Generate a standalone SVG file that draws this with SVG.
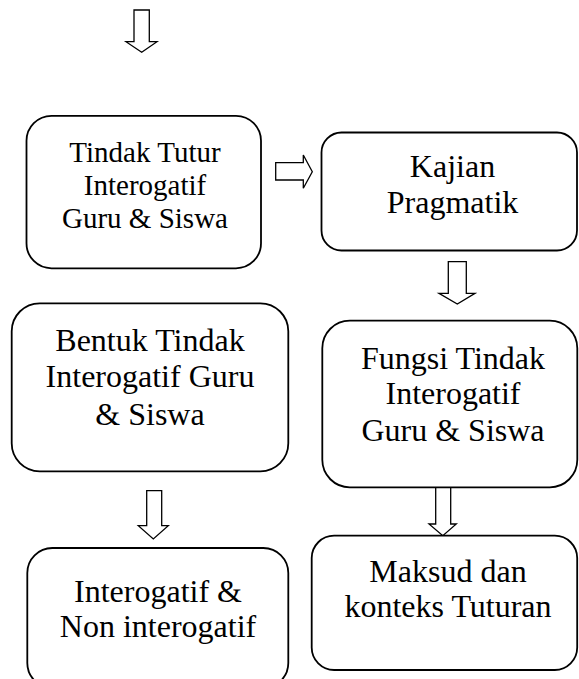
<svg xmlns="http://www.w3.org/2000/svg" width="579" height="679" viewBox="0 0 579 679">
<style>
.box{fill:#fff;stroke:#000;stroke-width:1.8}
.arr{fill:#fff;stroke:#000;stroke-width:1.3;stroke-linejoin:miter}
text{fill:#000;text-anchor:middle}
.t29{font-size:29px}
.t32{font-size:32px}
</style>
<rect width="579" height="679" fill="#fff"/>
<g id="connectors">
<polygon class="arr" points="134,10 149.3,10 149.3,41.7 157,41.7 141.7,52.3 126,41.7 134,41.7"/>
<polygon class="arr" points="275.7,162.7 303.3,162.7 303.3,155 312.3,171.7 303.3,188.3 303.3,180 275.7,180"/>
<polygon class="arr" points="448.3,261.7 466.3,261.7 466.3,293.3 475,293.3 457.3,304 439,293.3 448.3,293.3"/>
<polygon class="arr" points="146.7,490.7 161.7,490.7 161.7,525.7 168.3,525.7 153.3,539 138.3,525.7 146.7,525.7"/>
<polygon class="arr" points="435.7,487.3 450.7,487.3 450.7,524 456.3,524 442.8,535.7 429,524 435.7,524"/>
</g>
<g font-family="Liberation Serif, DejaVu Serif, serif">
<g id="tindak-tutur">
<rect class="box" x="26.5" y="115.8" width="234.5" height="152.5" rx="25" ry="25"/>
<text class="t29" x="145" y="161.7">Tindak Tutur</text>
<text class="t29" x="145" y="195">Interogatif</text>
<text class="t29" x="145" y="227.7">Guru &amp; Siswa</text>
</g>
<g id="kajian-pragmatik">
<rect class="box" x="321.5" y="132.5" width="255.5" height="118" rx="20" ry="20"/>
<text class="t32" x="452.5" y="176.7">Kajian</text>
<text class="t32" x="452.5" y="213.3">Pragmatik</text>
</g>
<g id="bentuk-tindak">
<rect class="box" x="11.7" y="303.3" width="276.6" height="168" rx="28" ry="28"/>
<text class="t32" x="150" y="351">Bentuk Tindak</text>
<text class="t32" x="150" y="387.3">Interogatif Guru</text>
<text class="t32" x="150" y="425">&amp; Siswa</text>
</g>
<g id="fungsi-tindak">
<rect class="box" x="322.3" y="320.7" width="255" height="166.6" rx="27.5" ry="27.5"/>
<text class="t32" x="453" y="369">Fungsi Tindak</text>
<text class="t32" x="453" y="404">Interogatif</text>
<text class="t32" x="453" y="441">Guru &amp; Siswa</text>
</g>
<g id="interogatif">
<rect class="box" x="27.3" y="548" width="261" height="140" rx="25" ry="25"/>
<text class="t32" x="158" y="602.3">Interogatif &amp;</text>
<text class="t32" x="158" y="636.7">Non interogatif</text>
</g>
<g id="maksud">
<rect class="box" x="311.7" y="535.7" width="265.5" height="134.3" rx="22.4" ry="22.4"/>
<text class="t32" x="448" y="581.7">Maksud dan</text>
<text class="t32" x="448" y="617.3">konteks Tuturan</text>
</g>
</g>
</svg>
